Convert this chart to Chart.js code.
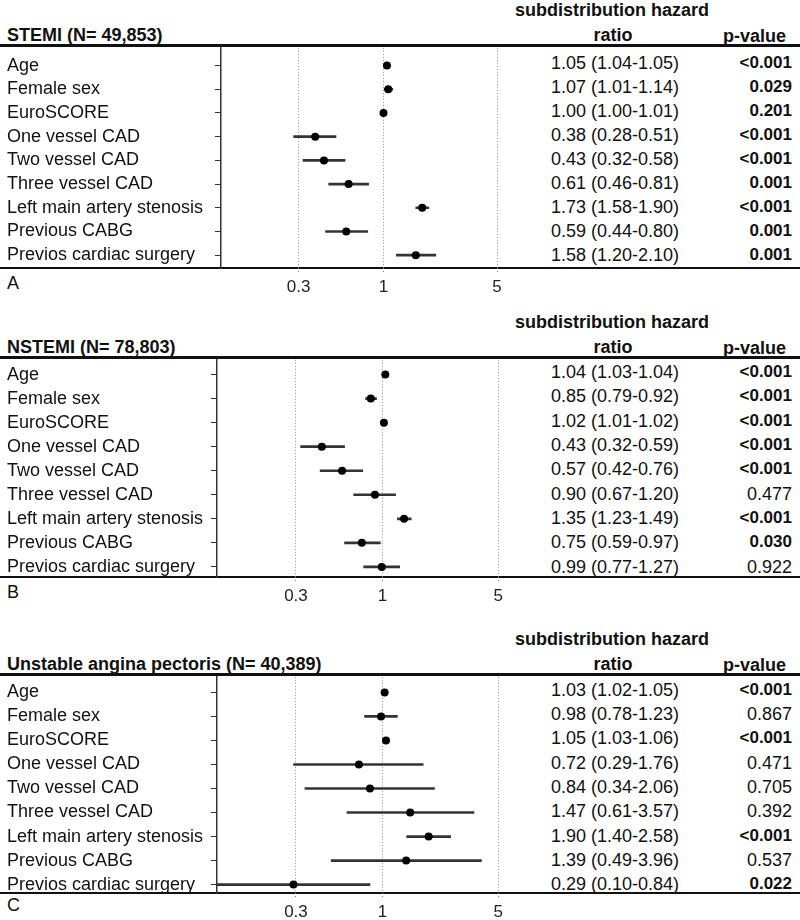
<!DOCTYPE html>
<html><head><meta charset="utf-8">
<script src="https://cdn.jsdelivr.net/npm/chart.js@4.4.1/dist/chart.umd.min.js"></script>
<style>
body{margin:0;background:#fff;width:800px;height:920px;position:relative;overflow:hidden;font-family:'Liberation Sans',Arial,sans-serif;color:#111}
.t{position:absolute;white-space:nowrap;font-size:18px;line-height:20px}
.b{font-weight:bold}
.s{font-size:17px}
.hl{position:absolute;left:0;width:800px;background:#111}
canvas{position:absolute;left:0}
</style></head><body>
<script>
// ---------- data ----------
const rowLabels = ['Age','Female sex','EuroSCORE','One vessel CAD','Two vessel CAD','Three vessel CAD','Left main artery stenosis','Previous CABG','Previos cardiac surgery'];
const xTickValues = [0.3, 1, 5];
const xTickLabels = ['0.3', '1', '5'];
const headerLine1 = 'subdistribution hazard';
const headerLine2 = 'ratio';
const headerP = 'p-value';

const stemiTitle = 'STEMI (N= 49,853)';
const stemiHR = [1.05, 1.07, 1.00, 0.38, 0.43, 0.61, 1.73, 0.59, 1.58];
const stemiLo = [1.04, 1.01, 1.00, 0.28, 0.32, 0.46, 1.58, 0.44, 1.20];
const stemiHi = [1.05, 1.14, 1.01, 0.51, 0.58, 0.81, 1.90, 0.80, 2.10];
const stemiP = ['<0.001','0.029','0.201','<0.001','<0.001','0.001','<0.001','0.001','0.001'];
const stemiBold = [true,true,true,true,true,true,true,true,true];

const nstemiTitle = 'NSTEMI (N= 78,803)';
const nstemiHR = [1.04, 0.85, 1.02, 0.43, 0.57, 0.90, 1.35, 0.75, 0.99];
const nstemiLo = [1.03, 0.79, 1.01, 0.32, 0.42, 0.67, 1.23, 0.59, 0.77];
const nstemiHi = [1.04, 0.92, 1.02, 0.59, 0.76, 1.20, 1.49, 0.97, 1.27];
const nstemiP = ['<0.001','<0.001','<0.001','<0.001','<0.001','0.477','<0.001','0.030','0.922'];
const nstemiBold = [true,true,true,true,true,false,true,true,false];

const uapTitle = 'Unstable angina pectoris (N= 40,389)';
const uapHR = [1.03, 0.98, 1.05, 0.72, 0.84, 1.47, 1.90, 1.39, 0.29];
const uapLo = [1.02, 0.78, 1.03, 0.29, 0.34, 0.61, 1.40, 0.49, 0.10];
const uapHi = [1.05, 1.23, 1.06, 1.76, 2.06, 3.57, 2.58, 3.96, 0.84];
const uapP = ['<0.001','0.867','<0.001','0.471','0.705','0.392','<0.001','0.537','0.022'];
const uapBold = [true,false,true,false,false,false,true,false,true];

// ---------- layout ----------
const FONT = "'Liberation Sans', Arial, sans-serif";
const panels = [
  {letter:'A', title:stemiTitle, hr:stemiHR, lo:stemiLo, hi:stemiHi, p:stemiP, bold:stemiBold,
   top:45, bottom:268, yMin:-0.75, yMax:8.54, axisX:221, right:546, letterOff:15},
  {letter:'B', title:nstemiTitle, hr:nstemiHR, lo:nstemiLo, hi:nstemiHi, p:nstemiP, bold:nstemiBold,
   top:357, bottom:577, yMin:-0.615, yMax:8.42, axisX:217, right:548, letterOff:15},
  {letter:'C', title:uapTitle, hr:uapHR, lo:uapLo, hi:uapHi, p:uapP, bold:uapBold,
   top:674, bottom:893, yMin:-0.65, yMax:8.35, axisX:217, right:548, letterOff:12}
];
const CW = 560, PADTOP = 12, XAXH = 30;

function addText(str, x, y, align, cls){
  const d = document.createElement('div');
  d.className = 't ' + (cls || '');
  d.textContent = str;
  d.style.top = (y - 10) + 'px';
  if (align === 'left') d.style.left = x + 'px';
  else if (align === 'right') d.style.right = (800 - x) + 'px';
  else { d.style.left = x + 'px'; d.style.transform = 'translateX(-50%)'; }
  document.body.appendChild(d);
}
function addLine(y, h){
  const d = document.createElement('div');
  d.className = 'hl';
  d.style.top = (y - h/2) + 'px';
  d.style.height = h + 'px';
  document.body.appendChild(d);
}
const fmt = v => v.toFixed(2);

panels.forEach(g => {
  const rowH = (g.bottom - g.top) / (g.yMax - g.yMin);
  const rowY = i => g.top + (i - g.yMin) * rowH;
  // headers
  addText(headerLine1, 612, g.top - 35, 'center', 'b');
  addText(headerLine2, 613, g.top - 10, 'center', 'b');
  addText(headerP, 786, g.top - 9, 'right', 'b');
  addText(g.title, 7, g.top - 10, 'left', 'b');
  addText(g.letter, 7, g.bottom + g.letterOff, 'left', '');
  // table columns
  g.hr.forEach((v, i) => {
    addText(`${fmt(v)} (${fmt(g.lo[i])}-${fmt(g.hi[i])})`, 615, rowY(i), 'center', '');
    addText(g.p[i], 792, rowY(i), 'right', g.bold[i] ? 'b s' : '');
  });
  addLine(g.top, 3);
  addLine(g.bottom, 2.5);

  // chart
  const cv = document.createElement('canvas');
  const H = (g.bottom - g.top) + PADTOP + XAXH;
  cv.width = CW; cv.height = H;
  cv.style.top = (g.top - PADTOP) + 'px';
  document.body.appendChild(cv);

  new Chart(cv, {
    type: 'bar',
    data: {
      datasets: [
        {type:'scatter', data: g.hr.map((v,i)=>({x:v, y:i})), pointRadius:4, pointBackgroundColor:'#000',
         pointBorderColor:'#000', pointBorderWidth:0, order:0},
        {type:'bar', data: g.lo.map((v,i)=>({x:[v, g.hi[i]], y:i})), backgroundColor:'#333',
         barThickness:2, grouped:false, borderWidth:0, order:1}
      ]
    },
    options: {
      indexAxis: 'y', responsive: false, animation: false, events: [],
      layout: {padding: {left:7, right: CW - g.right, top: PADTOP, bottom: 0}},
      plugins: {legend:{display:false}, tooltip:{enabled:false}},
      scales: {
        x: {
          type:'logarithmic', min:0.1, max:10, position:'bottom', offset:false,
          afterBuildTicks: s => { s.ticks = xTickValues.map(v => ({value:v})); },
          afterFit: s => { s.height = XAXH; },
          ticks: {callback:(v,i)=>xTickLabels[i], font:{family:FONT, size:17}, color:'#222', padding:3,
                  maxRotation:0, autoSkip:false},
          grid: {offset:false, drawOnChartArea:true, color:'#7f8ea3', lineWidth:1, drawTicks:true, tickLength:6,
                 tickColor:'#777', tickBorderDash:[1,2]},
          border: {display:false, dash:[1,2]}
        },
        y: {
          type:'linear', reverse:true, min:g.yMin, max:g.yMax, position:'left', offset:false,
          afterBuildTicks: s => { s.ticks = rowLabels.map((_,i) => ({value:i})); },
          afterFit: s => { s.width = g.axisX - 7; },
          ticks: {callback:(v,i)=>rowLabels[i], crossAlign:'far', font:{family:FONT, size:18}, color:'#111',
                  autoSkip:false, padding:4},
          grid: {offset:false, drawOnChartArea:false, drawTicks:true, tickLength:6, color:'#333', lineWidth:1},
          border: {display:true, color:'#333', width:1.5}
        }
      }
    }
  });
});
</script>
</body></html>
